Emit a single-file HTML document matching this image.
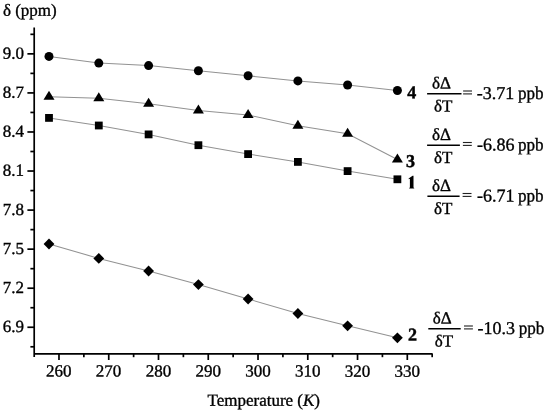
<!DOCTYPE html>
<html><head><meta charset="utf-8"><style>
html,body{margin:0;padding:0;background:#fff;}
svg{display:block;will-change:transform;}
.t{font-family:"Liberation Serif",serif;font-size:17px;fill:#000;stroke:#000;stroke-width:0.35px;}
.e{font-family:"Liberation Serif",serif;font-size:18px;fill:#000;stroke:#000;stroke-width:0.35px;}
.b{font-family:"Liberation Serif",serif;font-size:18px;font-weight:bold;fill:#000;stroke:#000;stroke-width:0.45px;}
</style></head><body>
<svg width="550" height="412" viewBox="0 0 550 412">
<polyline points="49.00,56.40 98.80,63.10 148.60,65.60 198.40,70.70 248.10,75.80 297.90,80.90 347.60,85.00 397.40,90.50" fill="none" stroke="#929292" stroke-width="1.05"/>
<polyline points="49.00,96.80 98.80,98.30 148.60,103.80 198.40,110.40 248.10,115.00 297.90,125.80 347.60,133.80 397.40,159.50" fill="none" stroke="#929292" stroke-width="1.05"/>
<polyline points="49.00,117.90 98.80,125.50 148.60,134.40 198.40,145.20 248.10,154.10 297.90,161.90 347.60,171.10 397.40,179.30" fill="none" stroke="#929292" stroke-width="1.05"/>
<polyline points="49.00,244.00 98.80,258.40 148.60,271.00 198.40,284.60 248.10,299.00 297.90,313.50 347.60,325.80 397.40,337.80" fill="none" stroke="#929292" stroke-width="1.05"/>
<circle cx="49.00" cy="56.40" r="4.5" fill="#000"/>
<circle cx="98.80" cy="63.10" r="4.5" fill="#000"/>
<circle cx="148.60" cy="65.60" r="4.5" fill="#000"/>
<circle cx="198.40" cy="70.70" r="4.5" fill="#000"/>
<circle cx="248.10" cy="75.80" r="4.5" fill="#000"/>
<circle cx="297.90" cy="80.90" r="4.5" fill="#000"/>
<circle cx="347.60" cy="85.00" r="4.5" fill="#000"/>
<circle cx="397.40" cy="90.50" r="4.5" fill="#000"/>
<polygon points="49.00,90.80 43.50,99.80 54.50,99.80" fill="#000"/>
<polygon points="98.80,92.30 93.30,101.30 104.30,101.30" fill="#000"/>
<polygon points="148.60,97.80 143.10,106.80 154.10,106.80" fill="#000"/>
<polygon points="198.40,104.40 192.90,113.40 203.90,113.40" fill="#000"/>
<polygon points="248.10,109.00 242.60,118.00 253.60,118.00" fill="#000"/>
<polygon points="297.90,119.80 292.40,128.80 303.40,128.80" fill="#000"/>
<polygon points="347.60,127.80 342.10,136.80 353.10,136.80" fill="#000"/>
<polygon points="397.40,153.50 391.90,162.50 402.90,162.50" fill="#000"/>
<rect x="45.10" y="114.00" width="7.8" height="7.8" fill="#000"/>
<rect x="94.90" y="121.60" width="7.8" height="7.8" fill="#000"/>
<rect x="144.70" y="130.50" width="7.8" height="7.8" fill="#000"/>
<rect x="194.50" y="141.30" width="7.8" height="7.8" fill="#000"/>
<rect x="244.20" y="150.20" width="7.8" height="7.8" fill="#000"/>
<rect x="294.00" y="158.00" width="7.8" height="7.8" fill="#000"/>
<rect x="343.70" y="167.20" width="7.8" height="7.8" fill="#000"/>
<rect x="393.50" y="175.40" width="7.8" height="7.8" fill="#000"/>
<polygon points="49.00,238.60 54.40,244.00 49.00,249.40 43.60,244.00" fill="#000"/>
<polygon points="98.80,253.00 104.20,258.40 98.80,263.80 93.40,258.40" fill="#000"/>
<polygon points="148.60,265.60 154.00,271.00 148.60,276.40 143.20,271.00" fill="#000"/>
<polygon points="198.40,279.20 203.80,284.60 198.40,290.00 193.00,284.60" fill="#000"/>
<polygon points="248.10,293.60 253.50,299.00 248.10,304.40 242.70,299.00" fill="#000"/>
<polygon points="297.90,308.10 303.30,313.50 297.90,318.90 292.50,313.50" fill="#000"/>
<polygon points="347.60,320.40 353.00,325.80 347.60,331.20 342.20,325.80" fill="#000"/>
<polygon points="397.40,332.40 402.80,337.80 397.40,343.20 392.00,337.80" fill="#000"/>
<line x1="34.2" y1="27.5" x2="34.2" y2="357" stroke="#000" stroke-width="1.7"/>
<line x1="34.2" y1="353.8" x2="432.6" y2="353.8" stroke="#000" stroke-width="1.7"/>
<line x1="30.40" y1="346.79" x2="34.2" y2="346.79" stroke="#000" stroke-width="1.7"/>
<line x1="27.40" y1="327.26" x2="34.2" y2="327.26" stroke="#000" stroke-width="1.7"/>
<line x1="30.40" y1="307.73" x2="34.2" y2="307.73" stroke="#000" stroke-width="1.7"/>
<line x1="27.40" y1="288.21" x2="34.2" y2="288.21" stroke="#000" stroke-width="1.7"/>
<line x1="30.40" y1="268.68" x2="34.2" y2="268.68" stroke="#000" stroke-width="1.7"/>
<line x1="27.40" y1="249.15" x2="34.2" y2="249.15" stroke="#000" stroke-width="1.7"/>
<line x1="30.40" y1="229.62" x2="34.2" y2="229.62" stroke="#000" stroke-width="1.7"/>
<line x1="27.40" y1="210.09" x2="34.2" y2="210.09" stroke="#000" stroke-width="1.7"/>
<line x1="30.40" y1="190.56" x2="34.2" y2="190.56" stroke="#000" stroke-width="1.7"/>
<line x1="27.40" y1="171.03" x2="34.2" y2="171.03" stroke="#000" stroke-width="1.7"/>
<line x1="30.40" y1="151.51" x2="34.2" y2="151.51" stroke="#000" stroke-width="1.7"/>
<line x1="27.40" y1="131.98" x2="34.2" y2="131.98" stroke="#000" stroke-width="1.7"/>
<line x1="30.40" y1="112.45" x2="34.2" y2="112.45" stroke="#000" stroke-width="1.7"/>
<line x1="27.40" y1="92.92" x2="34.2" y2="92.92" stroke="#000" stroke-width="1.7"/>
<line x1="30.40" y1="73.39" x2="34.2" y2="73.39" stroke="#000" stroke-width="1.7"/>
<line x1="27.40" y1="53.86" x2="34.2" y2="53.86" stroke="#000" stroke-width="1.7"/>
<line x1="30.40" y1="34.33" x2="34.2" y2="34.33" stroke="#000" stroke-width="1.7"/>
<line x1="58.98" y1="353.8" x2="58.98" y2="360.00" stroke="#000" stroke-width="1.7"/>
<line x1="83.86" y1="353.8" x2="83.86" y2="357.20" stroke="#000" stroke-width="1.7"/>
<line x1="108.74" y1="353.8" x2="108.74" y2="360.00" stroke="#000" stroke-width="1.7"/>
<line x1="133.62" y1="353.8" x2="133.62" y2="357.20" stroke="#000" stroke-width="1.7"/>
<line x1="158.50" y1="353.8" x2="158.50" y2="360.00" stroke="#000" stroke-width="1.7"/>
<line x1="183.38" y1="353.8" x2="183.38" y2="357.20" stroke="#000" stroke-width="1.7"/>
<line x1="208.26" y1="353.8" x2="208.26" y2="360.00" stroke="#000" stroke-width="1.7"/>
<line x1="233.14" y1="353.8" x2="233.14" y2="357.20" stroke="#000" stroke-width="1.7"/>
<line x1="258.02" y1="353.8" x2="258.02" y2="360.00" stroke="#000" stroke-width="1.7"/>
<line x1="282.90" y1="353.8" x2="282.90" y2="357.20" stroke="#000" stroke-width="1.7"/>
<line x1="307.78" y1="353.8" x2="307.78" y2="360.00" stroke="#000" stroke-width="1.7"/>
<line x1="332.66" y1="353.8" x2="332.66" y2="357.20" stroke="#000" stroke-width="1.7"/>
<line x1="357.54" y1="353.8" x2="357.54" y2="360.00" stroke="#000" stroke-width="1.7"/>
<line x1="382.42" y1="353.8" x2="382.42" y2="357.20" stroke="#000" stroke-width="1.7"/>
<line x1="407.30" y1="353.8" x2="407.30" y2="360.00" stroke="#000" stroke-width="1.7"/>
<line x1="432.18" y1="353.8" x2="432.18" y2="357.20" stroke="#000" stroke-width="1.7"/>
<path d="M408.6,178.4 L412.6,175.7 L413.5,175.7 L413.5,187.4 L414.2,188.1 L414.2,188.6 L409.2,188.6 L409.2,188.1 L409.9,187.4 L409.9,178.7 L408.8,179.2 Z" fill="#000"/>
<line x1="427.1" y1="93.8" x2="461.5" y2="93.8" stroke="#000" stroke-width="1.4"/>
<rect x="463.1" y="90.45" width="8.9" height="1.1" fill="#222"/>
<rect x="463.1" y="93.35" width="8.9" height="1.1" fill="#222"/>
<line x1="427.1" y1="145.3" x2="459.9" y2="145.3" stroke="#000" stroke-width="1.4"/>
<rect x="462.9" y="141.95" width="8.9" height="1.1" fill="#222"/>
<rect x="462.9" y="144.85" width="8.9" height="1.1" fill="#222"/>
<line x1="427.4" y1="196.3" x2="459.6" y2="196.3" stroke="#000" stroke-width="1.4"/>
<rect x="462.6" y="192.95" width="8.9" height="1.1" fill="#222"/>
<rect x="462.6" y="195.85" width="8.9" height="1.1" fill="#222"/>
<line x1="428.3" y1="328.8" x2="460.7" y2="328.8" stroke="#000" stroke-width="1.4"/>
<rect x="464.0" y="325.45" width="8.9" height="1.1" fill="#222"/>
<rect x="464.0" y="328.35" width="8.9" height="1.1" fill="#222"/>
<g transform="rotate(0.04 275 206)">
<text x="24" y="332.26" class="t" text-anchor="end">6.9</text>
<text x="24" y="293.21" class="t" text-anchor="end">7.2</text>
<text x="24" y="254.15" class="t" text-anchor="end">7.5</text>
<text x="24" y="215.09" class="t" text-anchor="end">7.8</text>
<text x="24" y="176.03" class="t" text-anchor="end">8.1</text>
<text x="24" y="136.98" class="t" text-anchor="end">8.4</text>
<text x="24" y="97.92" class="t" text-anchor="end">8.7</text>
<text x="24" y="58.86" class="t" text-anchor="end">9.0</text>
<text x="58.98" y="376.6" class="t" text-anchor="middle">260</text>
<text x="108.74" y="376.6" class="t" text-anchor="middle">270</text>
<text x="158.50" y="376.6" class="t" text-anchor="middle">280</text>
<text x="208.26" y="376.6" class="t" text-anchor="middle">290</text>
<text x="258.02" y="376.6" class="t" text-anchor="middle">300</text>
<text x="307.78" y="376.6" class="t" text-anchor="middle">310</text>
<text x="357.54" y="376.6" class="t" text-anchor="middle">320</text>
<text x="407.30" y="376.6" class="t" text-anchor="middle">330</text>
<text x="2.8" y="15.9" class="t">δ (ppm)</text>
<text x="207.6" y="405.8" class="t">Temperature (<tspan font-style="italic">K</tspan>)</text>
<text x="407.2" y="98.2" class="b">4</text>
<text x="406.1" y="166.9" class="b">3</text>
<text x="408.0" y="340.5" class="b">2</text>
<text x="432.00" y="88.40" class="t">δΔ</text>
<text x="434.00" y="111.30" class="t">δT</text>
<text x="476.65" y="98.80" class="e">-3.71</text>
<text x="517.90" y="98.80" class="e" textLength="25.6" lengthAdjust="spacingAndGlyphs">ppb</text>
<text x="432.00" y="139.90" class="t">δΔ</text>
<text x="434.00" y="162.80" class="t">δT</text>
<text x="477.00" y="150.30" class="e">-6.86</text>
<text x="517.90" y="150.30" class="e" textLength="25.6" lengthAdjust="spacingAndGlyphs">ppb</text>
<text x="432.00" y="190.90" class="t">δΔ</text>
<text x="434.00" y="213.80" class="t">δT</text>
<text x="476.90" y="201.30" class="e">-6.71</text>
<text x="517.90" y="201.30" class="e" textLength="25.6" lengthAdjust="spacingAndGlyphs">ppb</text>
<text x="432.90" y="323.40" class="t">δΔ</text>
<text x="434.90" y="346.30" class="t">δT</text>
<text x="477.60" y="333.80" class="e">-10.3</text>
<text x="518.80" y="333.80" class="e" textLength="25.6" lengthAdjust="spacingAndGlyphs">ppb</text>
</g>
</svg>
</body></html>
